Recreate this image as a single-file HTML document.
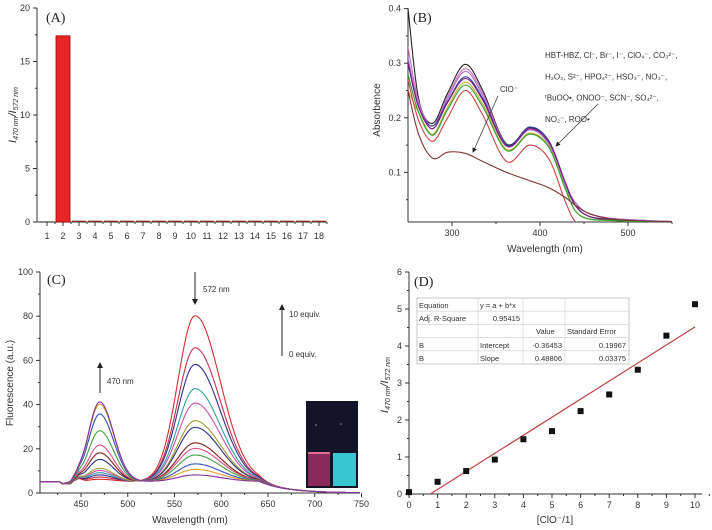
<!DOCTYPE html>
<html><head><meta charset="utf-8"><style>
html,body{margin:0;padding:0;background:#fff}
svg{display:block;font-family:"Liberation Sans",sans-serif}
</style></head><body>
<svg id="fig" width="712" height="530" viewBox="0 0 712 530" xmlns="http://www.w3.org/2000/svg">
<defs>
<clipPath id="clipB"><rect x="408" y="8" width="265" height="214"/></clipPath>
<clipPath id="clipC"><rect x="40" y="272" width="320" height="221"/></clipPath>
<marker id="ah" markerWidth="6" markerHeight="6" refX="5" refY="3" orient="auto"><path d="M0,0 L6,3 L0,6 z" fill="#222"/></marker>
</defs>
<g id="pA"></g>
<g id="pB"></g>
<g id="pC"></g>
<g id="pD"></g>
</svg>
<script>
// ---------- Panel A data ----------
const catsA = [1,2,3,4,5,6,7,8,9,10,11,12,13,14,15,16,17,18];
const valsA = [0.05,17.4,0.12,0.12,0.12,0.12,0.12,0.12,0.12,0.12,0.12,0.12,0.12,0.12,0.12,0.12,0.12,0.12];
const ticksA = [0,5,10,15,20];
// ---------- Panel B data ----------
const wlB = [250,262,278,295,315,335,362,388,410,428,440,455,480,520,550];
const seriesB = [
 [0.40,0.235,0.19,0.245,0.298,0.25,0.152,0.182,0.155,0.08,0.04,0.02,0.014,0.011,0.01],
 [0.33,0.23,0.185,0.24,0.29,0.245,0.15,0.18,0.153,0.08,0.045,0.025,0.016,0.012,0.01],
 [0.31,0.225,0.18,0.235,0.285,0.24,0.148,0.178,0.152,0.08,0.045,0.025,0.016,0.012,0.01],
 [0.30,0.22,0.185,0.23,0.275,0.235,0.15,0.183,0.158,0.085,0.04,0.02,0.013,0.01,0.01],
 [0.30,0.22,0.18,0.228,0.272,0.232,0.148,0.18,0.156,0.085,0.04,0.02,0.013,0.01,0.01],
 [0.25,0.21,0.17,0.22,0.265,0.225,0.142,0.172,0.148,0.075,0.03,0.015,0.012,0.01,0.01],
 [0.28,0.21,0.168,0.215,0.26,0.22,0.14,0.17,0.146,0.073,0.03,0.015,0.012,0.01,0.01],
 [0.27,0.195,0.157,0.2,0.25,0.205,0.12,0.15,0.125,0.05,0.01,0.0,0.0,0.0,0.0],
 [0.25,0.17,0.126,0.137,0.135,0.12,0.1,0.085,0.072,0.055,0.04,0.025,0.015,0.011,0.01]
];
const colorsB = ["#222","#d070c0","#a070d0","#3040a0","#802080","#c8b030","#30a030","#d04040","#803030"];
const ticksBy = [0.1,0.2,0.3,0.4];
const ticksBx = [300,400,500];
// ---------- Panel C data ----------
const peak470C = [6,7,8,9,10,11,15,18,21.5,28,35.5,40,41];
const peak572C = [80,65.5,58,47,40.5,32.5,29.5,22.5,20,17,13,10.5,8];
const colorsC = ["#d03030","#c03050","#303090","#30a0a0","#d050b0","#a0a030","#303080","#802020","#e05080","#40a040","#3050c0","#e0a020","#8030a0"];
const ticksCy = [0,20,40,60,80,100];
const ticksCx = [450,500,550,600,650,700,750];
// ---------- Panel D data ----------
const xD = [0,1,2,3,4,5,6,7,8,9,10];
const yD = [0.05,0.33,0.62,0.93,1.48,1.7,2.24,2.69,3.36,4.28,5.13];
const fitD = [-0.36453,0.48806];
const ticksDy = [0,1,2,3,4,5,6];

const NS="http://www.w3.org/2000/svg";
function sq(v){return v*v;}
function mk(parent,tag,attrs,text){const e=document.createElementNS(NS,tag);for(const k in attrs)e.setAttribute(k,attrs[k]);if(text!==undefined)e.textContent=text;parent.appendChild(e);return e;}
function smooth(pts){let d="M"+pts[0][0].toFixed(1)+","+pts[0][1].toFixed(1);for(let i=0;i<pts.length-1;i++){const p0=pts[i-1]||pts[i],p1=pts[i],p2=pts[i+1],p3=pts[i+2]||p2;const c1=[p1[0]+(p2[0]-p0[0])/6,p1[1]+(p2[1]-p0[1])/6],c2=[p2[0]-(p3[0]-p1[0])/6,p2[1]-(p3[1]-p1[1])/6];d+=` C${c1[0].toFixed(1)},${c1[1].toFixed(1)} ${c2[0].toFixed(1)},${c2[1].toFixed(1)} ${p2[0].toFixed(1)},${p2[1].toFixed(1)}`;}return d;}

// ===== Panel A =====
(function(){
 const g=document.getElementById('pA');
 const X=c=>47+(c-1)*16, Y=v=>222-v*10.7;
 mk(g,'line',{x1:37,y1:8,x2:37,y2:222,stroke:'#333','stroke-width':1});
 mk(g,'line',{x1:37,y1:222,x2:327,y2:222,stroke:'#333','stroke-width':1});
 ticksA.forEach(t=>{mk(g,'line',{x1:33,y1:Y(t),x2:37,y2:Y(t),stroke:'#333'});
  const e=mk(g,'text',{x:30,y:Y(t)+3,'font-size':9,'text-anchor':'end',fill:'#333'},t);
  
  
  if(t<20)mk(g,'line',{x1:35,y1:Y(t+2.5),x2:37,y2:Y(t+2.5),stroke:'#333'});});
 catsA.forEach((c,i)=>{
  mk(g,'line',{x1:X(c),y1:222,x2:X(c),y2:226,stroke:'#333'});
  mk(g,'line',{x1:X(c)+8,y1:222,x2:X(c)+8,y2:224,stroke:'#333'});
  const b=mk(g,'rect',{x:X(c)-7,y:Y(valsA[i]),width:14,height:Math.max(1,222-Y(valsA[i])),fill:i===0?'#222':(i===1?'#e8262a':'#8a2020'),stroke:i===1?'#900':'none','stroke-width':0.8});
  
  
  const t=mk(g,'text',{x:X(c),y:239,'font-size':9,'text-anchor':'middle',fill:'#333'},c);
  
  
 });
 const l=mk(g,'text',{x:46,y:22,'font-size':14,'font-family':'Liberation Serif, serif',fill:'#222'},'(A)');
 
 
 const yl=mk(g,'text',{transform:'translate(16,115) rotate(-90)','font-size':11,'text-anchor':'middle','font-style':'italic',fill:'#333'});
 
 
 yl.innerHTML='I<tspan font-size="7" dy="2">470 nm</tspan><tspan dy="-2">/I</tspan><tspan font-size="7" dy="2">572 nm</tspan>';
})();

// ===== Panel B =====
(function(){
 const g=document.getElementById('pB');
 const X=w=>408+(w-250)*0.88, Y=v=>227-v*546;
 mk(g,'line',{x1:408,y1:8,x2:408,y2:222,stroke:'#333'});
 mk(g,'line',{x1:408,y1:222,x2:672,y2:222,stroke:'#333'});
 ticksBy.forEach(t=>{mk(g,'line',{x1:404,y1:Y(t),x2:408,y2:Y(t),stroke:'#333'});
  mk(g,'line',{x1:406,y1:Y(t-0.05),x2:408,y2:Y(t-0.05),stroke:'#333'});
  const e=mk(g,'text',{x:401,y:Y(t)+3,'font-size':9,'text-anchor':'end',fill:'#333'},t.toFixed(1));
  
  });
 ticksBx.forEach(t=>{mk(g,'line',{x1:X(t),y1:222,x2:X(t),y2:226,stroke:'#333'});
  mk(g,'line',{x1:X(t+50),y1:222,x2:X(t+50),y2:224,stroke:'#333'});
  const e=mk(g,'text',{x:X(t),y:236,'font-size':9,'text-anchor':'middle',fill:'#333'},t);
  
  });
 const cg=mk(g,'g',{'clip-path':'url(#clipB)'});
 seriesB.forEach((s,i)=>{const p=mk(cg,'path',{d:smooth(wlB.map((w,j)=>[X(w),Y(s[j])])),fill:'none',stroke:colorsB[i],'stroke-width':1.1});
  
  });
 const l=mk(g,'text',{x:413,y:22,'font-size':14,'font-family':'Liberation Serif, serif',fill:'#222'},'(B)');
 
 
 const yl=mk(g,'text',{transform:'translate(380,110) rotate(-90)','font-size':10,'text-anchor':'middle',fill:'#333'},'Absorbence');
 
 
 const xl=mk(g,'text',{x:545,y:252,'font-size':10,'text-anchor':'middle',fill:'#333'},'Wavelength (nm)');
 
 
 const c=mk(g,'text',{x:500,y:92,'font-size':8,fill:'#333'},'ClO⁻');
 
 
 mk(g,'line',{x1:498,y1:96,x2:473,y2:152,stroke:'#444','stroke-width':0.8,'marker-end':'url(#ah)'});
 mk(g,'line',{x1:598,y1:104,x2:556,y2:146,stroke:'#444','stroke-width':0.8,'marker-end':'url(#ah)'});
 const lines=['HBT-HBZ, Cl⁻, Br⁻, I⁻, ClO₄⁻, CO₃²⁻,','H₂O₂, S²⁻, HPO₄²⁻, HSO₃⁻, NO₃⁻,','ᵗBuOO•, ONOO⁻, SCN⁻, SO₄²⁻,','NO₂⁻, ROO•'];
 lines.forEach((t,i)=>{const e=mk(g,'text',{x:545,y:58+i*21.3,'font-size':8,fill:'#333'},t);
  
  });
})();

// ===== Panel C =====
(function(){
 const g=document.getElementById('pC');
 const X=w=>81+(w-450)*0.935, Y=v=>493-v*2.21;
 mk(g,'line',{x1:40,y1:272,x2:40,y2:493,stroke:'#333'});
 mk(g,'line',{x1:40,y1:493,x2:360,y2:493,stroke:'#333'});
 ticksCy.forEach(t=>{mk(g,'line',{x1:36,y1:Y(t),x2:40,y2:Y(t),stroke:'#333'});
  if(t<100)mk(g,'line',{x1:38,y1:Y(t+10),x2:40,y2:Y(t+10),stroke:'#333'});
  const e=mk(g,'text',{x:33,y:Y(t)+3,'font-size':9,'text-anchor':'end',fill:'#333'},t);
  
  });
 ticksCx.forEach(t=>{mk(g,'line',{x1:X(t),y1:493,x2:X(t),y2:497,stroke:'#333'});
  mk(g,'line',{x1:X(t-25),y1:493,x2:X(t-25),y2:495,stroke:'#333'});
  const e=mk(g,'text',{x:X(t),y:507,'font-size':9,'text-anchor':'middle',fill:'#333'},t);
  
  });
 const cg=mk(g,'g',{'clip-path':'url(#clipC)'});
 peak470C.forEach((a,i)=>{const b=peak572C[i];const pts=[];
  for(let w=406;w<=750;w+=3){
   let base=w<428?5:(w<440?4.2:5.2);
   if(w>640)base=5.2*Math.exp(-(w-640)/30);
   base+= (w>440&&w<456)?1.2*Math.exp(-sq((w-448)/4)):0;
   const g1=Math.max(0,a-5)*Math.exp(-sq((w-470)/(w<470?17:21)));
   const sr=w<572?26:38;
   const g2=Math.max(0,b-5)*Math.exp(-sq((w-572)/sr));
   pts.push([X(w),Y(base+g1+g2)]);}
  const p=mk(cg,'path',{d:smooth(pts),fill:'none',stroke:colorsC[i],'stroke-width':1.1});
  
  });
 const l=mk(g,'text',{x:47,y:284,'font-size':14,'font-family':'Liberation Serif, serif',fill:'#222'},'(C)');
 
 
 const yl=mk(g,'text',{transform:'translate(13,383) rotate(-90)','font-size':10,'text-anchor':'middle',fill:'#333'},'Fluorescence (a.u.)');
 
 
 const xl=mk(g,'text',{x:190,y:523,'font-size':10,'text-anchor':'middle',fill:'#333'},'Wavelength (nm)');
 
 
 mk(g,'line',{x1:195,y1:272,x2:195,y2:304,stroke:'#222','stroke-width':1,'marker-end':'url(#ah)'});
 mk(g,'line',{x1:100,y1:393,x2:100,y2:363,stroke:'#222','stroke-width':1,'marker-end':'url(#ah)'});
 mk(g,'line',{x1:282,y1:356,x2:282,y2:305,stroke:'#222','stroke-width':1,'marker-end':'url(#ah)'});
 [['572 nm',203,292],['470 nm',107,384],['10 equiv.',289,317],['0 equiv.',289,357]].forEach(a=>{
  const e=mk(g,'text',{x:a[1],y:a[2],'font-size':8,fill:'#333'},a[0]);
  
  });
 const ins=mk(g,'g',{});
 
 
 mk(ins,'rect',{x:306,y:401,width:52,height:87,fill:'#141428'});
 mk(ins,'rect',{x:308,y:453,width:22,height:33,fill:'#8a2a5a'});
 mk(ins,'rect',{x:308,y:452,width:22,height:2,fill:'#e07090'});
 mk(ins,'rect',{x:333,y:453,width:23,height:33,fill:'#39c6d0'});
 mk(ins,'circle',{cx:316,cy:425,r:0.8,fill:'#999'});mk(ins,'circle',{cx:341,cy:424,r:0.8,fill:'#999'});
})();

// ===== Panel D =====
(function(){
 const g=document.getElementById('pD');
 const X=x=>409+x*28.6, Y=y=>494-y*37;
 mk(g,'line',{x1:409,y1:272,x2:409,y2:494,stroke:'#333'});
 mk(g,'line',{x1:409,y1:494,x2:702,y2:494,stroke:'#333'});
 ticksDy.forEach(t=>{mk(g,'line',{x1:405,y1:Y(t),x2:409,y2:Y(t),stroke:'#333'});
  if(t<6)mk(g,'line',{x1:407,y1:Y(t+0.5),x2:409,y2:Y(t+0.5),stroke:'#333'});
  const e=mk(g,'text',{x:402,y:Y(t)+3,'font-size':9,'text-anchor':'end',fill:'#333'},t);
  
  });
 xD.forEach(t=>{mk(g,'line',{x1:X(t),y1:494,x2:X(t),y2:498,stroke:'#333'});
  mk(g,'line',{x1:X(t+0.5),y1:494,x2:X(t+0.5),y2:496,stroke:'#333'});
  const e=mk(g,'text',{x:X(t),y:508,'font-size':9,'text-anchor':'middle',fill:'#333'},t);
  
  });
 const x0=-fitD[0]/fitD[1];
 const fl=mk(g,'line',{x1:X(x0),y1:Y(0),x2:X(10),y2:Y(fitD[0]+fitD[1]*10),stroke:'#c04040','stroke-width':1.2});
 
 
 xD.forEach((x,i)=>{const r=mk(g,'rect',{x:X(x)-3,y:Y(yD[i])-3,width:6,height:6,fill:'#111'});
  
  });
 const l=mk(g,'text',{x:414,y:286,'font-size':14,'font-family':'Liberation Serif, serif',fill:'#222'},'(D)');
 
 
 const yl=mk(g,'text',{transform:'translate(388,385) rotate(-90)','font-size':11,'text-anchor':'middle','font-style':'italic',fill:'#333'});
 
 
 yl.innerHTML='I<tspan font-size="7" dy="2">470 nm</tspan><tspan dy="-2">/I</tspan><tspan font-size="7" dy="2">572 nm</tspan>';
 const xl=mk(g,'text',{x:555,y:523,'font-size':10,'text-anchor':'middle',fill:'#333'},'[ClO⁻/1]');
 
 
 const tb=mk(g,'g',{});
 
 
 mk(tb,'rect',{x:417,y:298,width:212,height:66,fill:'#fff',stroke:'#bbb','stroke-width':0.8});
 const cols=[417,478,523,565,629];
 for(let r=1;r<5;r++)mk(tb,'line',{x1:417,y1:298+r*13.2,x2:629,y2:298+r*13.2,stroke:'#ccc','stroke-width':0.6});
 cols.slice(1,4).forEach(c=>mk(tb,'line',{x1:c,y1:298,x2:c,y2:364,stroke:'#ccc','stroke-width':0.6}));
 const cells=[['Equation',419,308,'start'],['y = a + b*x',480,308,'start'],['Adj. R-Square',419,321,'start'],['0.95415',520,321,'end'],
  ['Value',536,334,'start'],['Standard Error',567,334,'start'],['B',419,348,'start'],['Intercept',480,348,'start'],['-0.36453',562,348,'end'],['0.19967',626,348,'end'],
  ['B',419,361,'start'],['Slope',480,361,'start'],['0.48806',562,361,'end'],['0.03375',626,361,'end']];
 cells.forEach(c=>{const e=mk(tb,'text',{x:c[1],y:c[2],'font-size':7.5,'text-anchor':c[3],fill:'#333'},c[0]);
  
  });
})();
</script>
</body></html>
